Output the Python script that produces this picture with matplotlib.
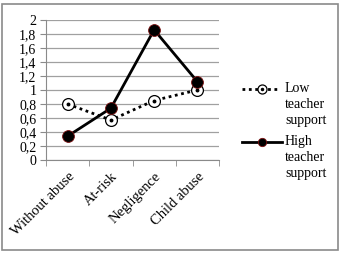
import matplotlib
matplotlib.use("Agg")
import matplotlib.pyplot as plt
from matplotlib.patches import Rectangle
from matplotlib.lines import Line2D
import numpy as np

categories = ["Without abuse", "At-risk", "Negligence", "Child abuse"]
low_support = [0.80, 0.57, 0.85, 1.00]
high_support = [0.34, 0.74, 1.86, 1.12]
y_ticks = [0, 0.2, 0.4, 0.6, 0.8, 1.0, 1.2, 1.4, 1.6, 1.8, 2.0]
y_labels = ["0", "0,2", "0,4", "0,6", "0,8", "1", "1,2", "1,4", "1,6", "1,8", "2"]
series_labels = ["Low\nteacher\nsupport", "High\nteacher\nsupport"]

plt.rcParams["font.family"] = ["Liberation Serif", "DejaVu Serif"]

W, H = 342, 254
fig = plt.figure(figsize=(W / 100, H / 100), dpi=100)
fig.patches.append(Rectangle((2 / W, 4 / H), 336 / W, 246 / H, transform=fig.transFigure,
                             fill=False, edgecolor="#8a8a8a", linewidth=1.2))

ax = fig.add_axes([46 / W, 1 - 160 / H, 173 / W, 140 / H])
x = np.arange(len(categories))

ax.plot(x, low_support, linestyle=(0, (1, 1.3)), color="black", linewidth=2.0,
        marker="o", markersize=8.5, markerfacecolor="white", markeredgecolor="black",
        markeredgewidth=0.9, zorder=3)
ax.plot(x, low_support, linestyle="none", marker="o", markersize=1.8, color="black", zorder=4)
ax.plot(x, high_support, linestyle="-", color="black", linewidth=2.0,
        marker="o", markersize=8.5, markerfacecolor="black", markeredgecolor="#7a1010",
        markeredgewidth=0.6, zorder=5)

ax.set_xlim(-0.5, len(categories) - 0.5)
ax.set_ylim(0, 2)
ax.set_yticks(y_ticks)
ax.set_yticklabels(y_labels, fontsize=10)
ax.yaxis.grid(True, color="#a0a0a0", linewidth=0.9)
ax.set_axisbelow(True)

ax.set_xticks(x)
ax.set_xticklabels(categories, rotation=45, ha="right", va="top", rotation_mode="anchor", fontsize=10.5)
ax.tick_params(axis="x", which="major", length=0, pad=7)
ax.set_xticks(np.arange(-0.5, len(categories)), minor=True)
ax.tick_params(axis="x", which="minor", length=4, color="#8a8a8a", direction="out")
ax.tick_params(axis="y", length=4, color="#8a8a8a", pad=3)

for side in ["top", "right"]:
    ax.spines[side].set_visible(False)
ax.spines["left"].set_color("#8a8a8a")
ax.spines["bottom"].set_color("#8a8a8a")

# legend drawn by hand
def fx(px):
    return px / W

def fy(py):
    return 1 - py / H

fig.lines.append(Line2D([fx(242), fx(279)], [fy(89), fy(89)], transform=fig.transFigure,
                        color="black", linewidth=2.0, linestyle=(0, (1, 1.3))))
fig.lines.append(Line2D([fx(262)], [fy(89)], transform=fig.transFigure, marker="o",
                        markersize=6.5, markerfacecolor="white", markeredgecolor="black",
                        markeredgewidth=0.9, linestyle="none"))
fig.lines.append(Line2D([fx(262)], [fy(89)], transform=fig.transFigure, marker="o",
                        markersize=1.5, color="black", linestyle="none"))
fig.lines.append(Line2D([fx(242), fx(282)], [fy(142), fy(142)], transform=fig.transFigure,
                        color="black", linewidth=2.0))
fig.lines.append(Line2D([fx(262)], [fy(142)], transform=fig.transFigure, marker="o",
                        markersize=6, markerfacecolor="black", markeredgecolor="#7a1010",
                        markeredgewidth=0.6, linestyle="none"))

fig.text(fx(285), fy(82), series_labels[0], fontsize=10, va="top", ha="left", linespacing=1.3)
fig.text(fx(285), fy(135), series_labels[1], fontsize=10, va="top", ha="left", linespacing=1.3)

fig.savefig("out.png", dpi=100)
